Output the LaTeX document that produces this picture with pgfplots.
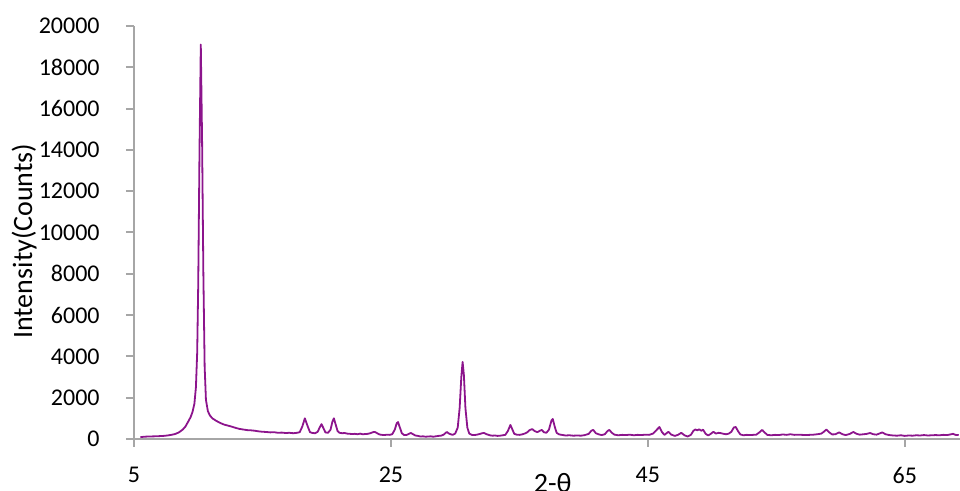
\documentclass[border=0pt]{standalone}
\usepackage{fontspec}
\setmainfont{Carlito}
\usepackage{pgfplots}
\pgfplotsset{compat=1.18}
\definecolor{xrd}{RGB}{140,20,140}
\definecolor{axgray}{RGB}{166,166,166}
\begin{document}
\begin{tikzpicture}
\begin{axis}[
  at={(0pt,0pt)}, anchor=south west,
  scale only axis, width=413pt, height=206.5pt,
  xmin=5, xmax=69.3, ymin=0, ymax=20000,
  axis x line=bottom, axis y line=left,
  axis line style={-, draw=axgray, line width=1pt},
  xtick={5,25,45,65}, ytick={0,2000,...,20000},
  tick align=outside, major tick length=4pt,
  tick style={draw=axgray, line width=1pt},
  /pgf/number format/assume math mode=true,
  /pgf/number format/1000 sep={},
  scaled y ticks=false,
  ticklabel style={font=\fontsize{12}{14}\selectfont, text=black, inner sep=0pt},
  yticklabel style={anchor=east, xshift=-13pt},
  xticklabel style={anchor=north, yshift=-10pt},
  ylabel={Intensity(Counts)},
  ylabel style={at={(axis description cs:-0.133,0.479)}, anchor=center, font=\fontsize{14}{16}\selectfont},
  xlabel={2-θ},
  xlabel style={at={(axis description cs:0.507,-0.1065)}, anchor=center, font=\fontsize{14}{16}\selectfont},
]
\addplot[xrd, line width=0.9pt, line join=round, mark=none] table {
x y
5.5 90
5.8 110
6.1 120
6.4 125
6.7 130
7.0 140
7.3 150
7.6 170
7.9 200
8.2 240
8.5 320
8.8 460
9.0 600
9.2 820
9.4 1050
9.55 1300
9.7 1700
9.82 2500
9.92 4200
10.0 7500
10.1 14000
10.2 19100
10.3 14500
10.4 8000
10.5 3500
10.6 1900
10.75 1350
10.9 1150
11.1 1000
11.4 880
11.7 780
12.0 700
12.3 650
12.6 600
12.9 540
13.2 490
13.5 460
13.8 430
14.1 420
14.4 400
14.7 370
15.0 350
15.3 340
15.6 320
15.9 330
16.2 300
16.5 310
16.8 290
17.1 300
17.4 280
17.7 300
17.9 330
18.1 600
18.3 1000
18.5 650
18.7 330
18.9 290
19.1 280
19.3 350
19.45 550
19.6 720
19.75 520
19.9 320
20.1 300
20.3 450
20.45 850
20.56 1000
20.7 700
20.85 380
21.0 300
21.2 280
21.4 290
21.6 260
21.8 250
22.0 240
22.2 250
22.4 230
22.6 260
22.8 230
23.0 240
23.2 250
23.4 280
23.6 330
23.75 340
23.9 290
24.1 220
24.3 200
24.5 190
24.7 210
24.9 200
25.1 230
25.3 450
25.45 760
25.55 820
25.7 550
25.85 280
26.0 200
26.2 190
26.4 250
26.55 290
26.7 240
26.9 170
27.1 150
27.3 120
27.5 130
27.7 110
27.9 120
28.1 130
28.3 110
28.5 130
28.7 150
28.9 160
29.1 210
29.35 340
29.55 250
29.8 200
30.0 260
30.2 550
30.35 1500
30.48 3000
30.58 3730
30.68 3100
30.8 1500
30.95 550
31.1 260
31.3 200
31.5 190
31.7 210
31.9 240
32.1 280
32.25 290
32.45 230
32.7 180
32.9 160
33.1 170
33.3 150
33.5 160
33.7 180
33.9 200
34.1 380
34.3 680
34.45 470
34.6 250
34.8 210
35.0 200
35.2 220
35.4 260
35.6 320
35.8 430
36.0 480
36.2 380
36.4 330
36.6 400
36.75 440
36.9 330
37.1 300
37.3 450
37.5 900
37.6 970
37.75 600
37.9 300
38.1 220
38.3 200
38.6 170
38.9 180
39.2 160
39.5 170
39.8 160
40.1 190
40.4 250
40.6 400
40.75 440
40.95 280
41.2 220
41.4 190
41.65 230
41.85 380
42.0 440
42.2 300
42.4 210
42.7 180
43.0 200
43.3 190
43.6 210
43.9 180
44.2 200
44.5 190
44.8 210
45.1 200
45.4 260
45.7 450
45.9 580
46.1 330
46.3 200
46.6 350
46.8 220
47.1 150
47.35 200
47.6 300
47.85 180
48.1 120
48.35 200
48.55 400
48.7 460
48.85 420
49.0 470
49.15 400
49.3 450
49.5 250
49.7 170
49.9 250
50.1 350
50.3 260
50.5 300
50.7 280
50.9 250
51.1 230
51.3 260
51.5 350
51.7 560
51.85 580
52.0 400
52.2 220
52.45 180
52.7 200
52.95 190
53.2 200
53.45 210
53.7 330
53.9 440
54.1 310
54.3 200
54.6 180
54.9 200
55.2 190
55.5 220
55.8 200
56.1 230
56.4 200
56.7 210
57.0 200
57.3 190
57.6 200
57.9 210
58.2 230
58.5 260
58.7 350
58.9 460
59.1 330
59.35 220
59.6 230
59.9 320
60.15 230
60.4 190
60.7 240
61.0 340
61.25 250
61.5 210
61.8 230
62.05 250
62.3 290
62.55 230
62.8 210
63.05 270
63.25 320
63.5 230
63.8 190
64.1 170
64.4 160
64.7 180
65.0 150
65.3 170
65.6 160
65.9 180
66.2 170
66.5 190
66.8 170
67.1 180
67.4 190
67.7 180
68.0 200
68.3 190
68.55 220
68.75 250
68.95 200
69.2 190
};
\end{axis}
\pgfresetboundingbox
\path[use as bounding box] (-67pt,-26pt) rectangle (413pt,219.5pt);
\end{tikzpicture}
\end{document}
